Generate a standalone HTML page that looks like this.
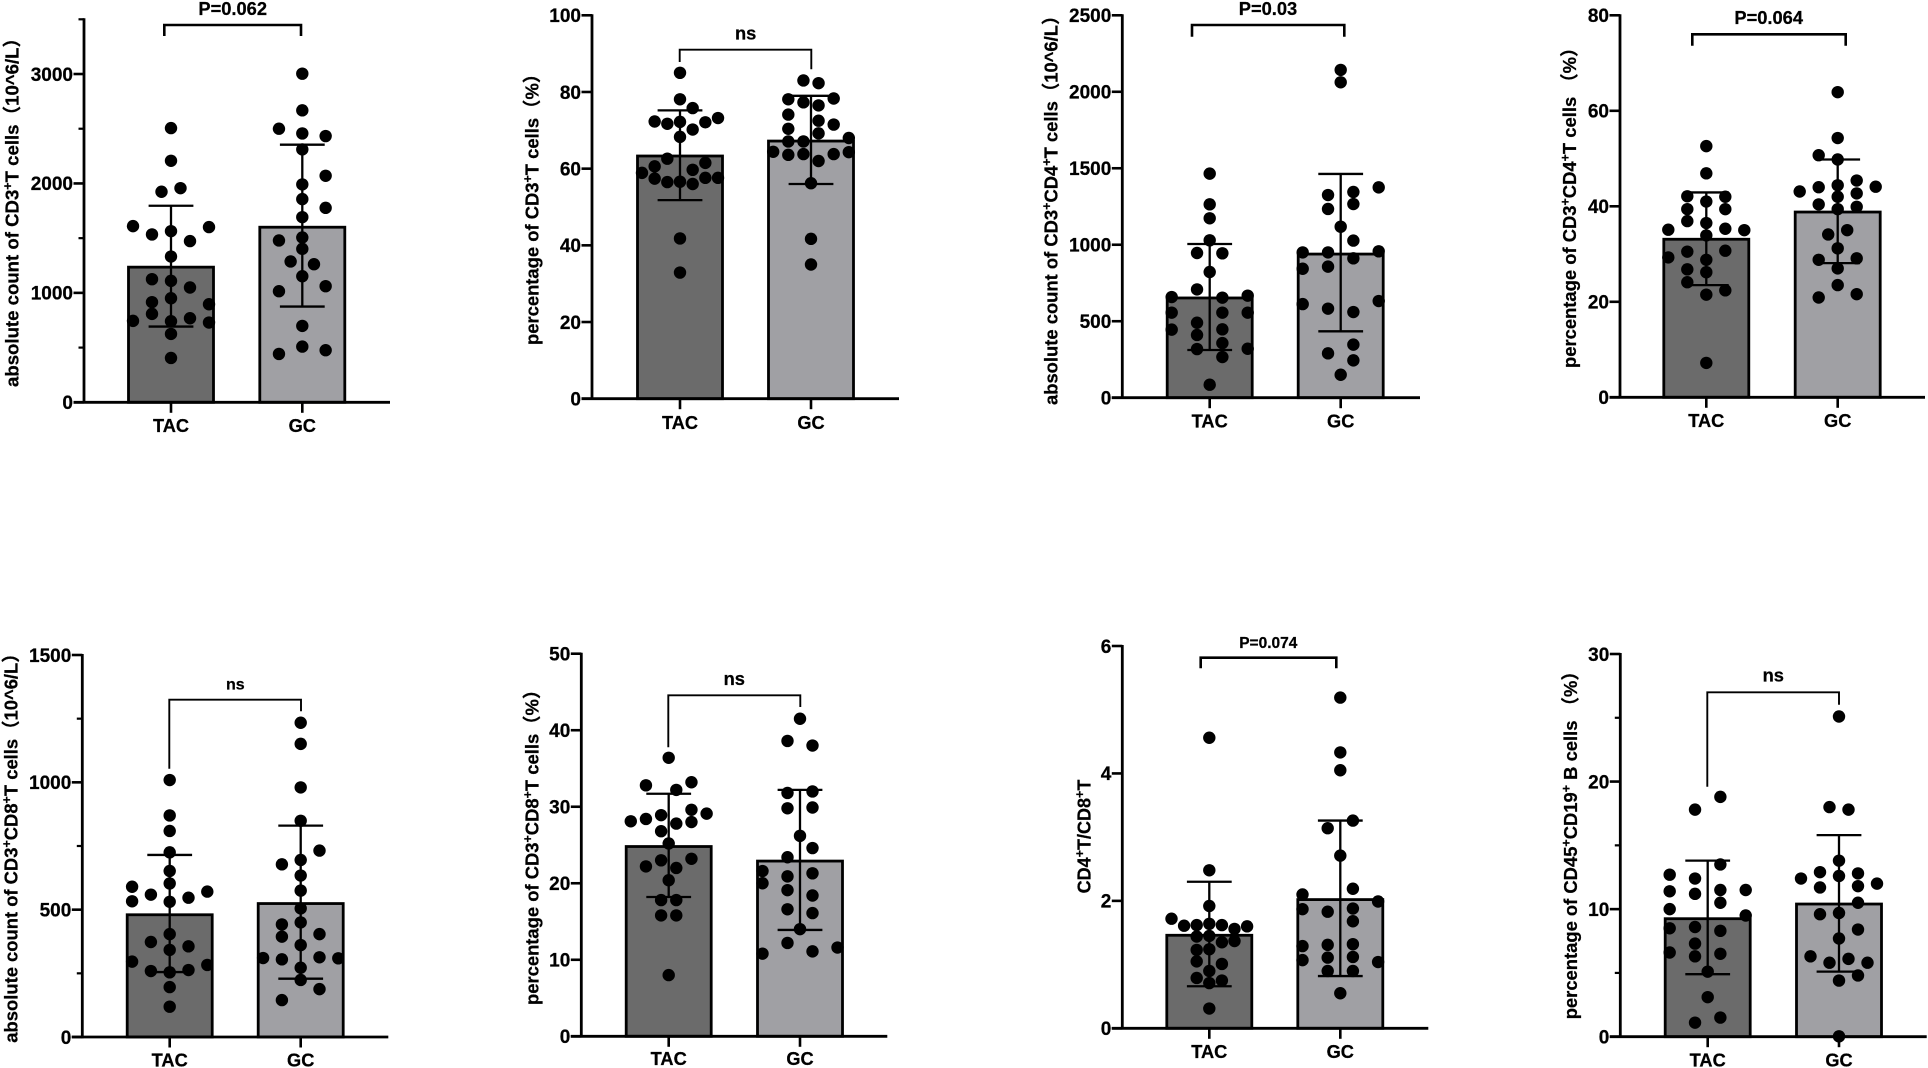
<!DOCTYPE html>
<html lang="en">
<head>
<meta charset="utf-8">
<title>Lymphocyte subsets TAC vs GC</title>
<style>
html,body{margin:0;padding:0;background:#fff;}
body{width:1928px;height:1068px;overflow:hidden;}
svg{display:block;}
text{font-family:"Liberation Sans","Noto Sans CJK SC",sans-serif;font-weight:bold;fill:#000;stroke:#000;stroke-width:.25;white-space:pre;}
</style>
</head>
<body>
<svg id="figure" width="1928" height="1068" viewBox="0 0 1928 1068" xmlns="http://www.w3.org/2000/svg"></svg>
<script>
const categories = ['TAC', 'GC'];

const p1Tac = [2506,2207,1924,1957,1610,1601,1534,1564,1473,1332,1125,1110,1049,915,951,896,808,768,744,741,729,625,405];
const p1Gc = [3003,2668,2500,2457,2433,2311,2070,1991,1857,1777,1692,1506,1479,1402,1287,1262,1152,1061,1015,698,509,476,442];
const p1TacSwarm = [0,0,-.5,.5,-2,2,-1,0,1,0,-1,0,1,-1,0,2,-1,1,-2,0,2,0,0];
const p1GcSwarm = [0,0,-2,0,2,0,2,0,0,2,0,0,-2,0,-1,1,0,2,-2,0,0,2,-2];
const p1Means = [1235,1600];
const p1Upper = [1796,2354];
const p1Lower = [692,875];
const p1Ticks = [0,1000,2000,3000];
const p1Minor = [500,1500,2500,3500];

const p2Tac = [85.0,78.1,75.8,73.2,72.3,71.7,72.2,72.1,70.2,68.3,62.6,61.5,60.6,59.7,58.9,57.4,57.6,57.6,56.5,56.6,56.0,41.8,32.9];
const p2Gc = [83.0,82.3,78.1,78.3,77.3,76.5,74.1,72.5,71.5,70.4,69.2,68.0,67.1,67.1,64.4,64.3,63.6,63.8,63.8,62.0,56.2,41.7,35.0];
const p2TacSwarm = [0,0,1,3,-2,-1,0,2,1,0,-1,2,-2,1,-3,-2,2,3,-1,0,1,0,0];
const p2GcSwarm = [-.5,.5,-1.5,1.5,-.5,.5,-1.5,.5,1.5,-1.5,.5,2.5,-1.5,-.5,-2.5,2.5,-1.5,-.5,1.5,.5,0,0,0];
const p2Means = [63.3,67.2];
const p2Upper = [75.2,79.0];
const p2Lower = [51.8,56.0];
const p2Ticks = [0,20,40,60,80,100];
const p2Minor = [];

const p3Tac = [1465,1264,1173,1029,946,944,822,708,658,654,667,556,556,556,490,447,445,410,357,318,320,266,85];
const p3Gc = [2143,2062,1375,1345,1325,1266,1234,1118,1027,950,950,957,911,857,843,612,632,582,560,347,290,244,150];
const p3TacSwarm = [0,0,0,0,-1,1,0,-1,-3,1,3,-3,1,3,-1,1,-3,-1,1,-1,3,1,0];
const p3GcSwarm = [0,0,3,1,-1,1,-1,0,1,-3,-1,3,1,-1,-3,-3,3,-1,1,1,-1,1,0];
const p3Means = [652,939];
const p3Upper = [1005,1463];
const p3Lower = [312,434];
const p3Ticks = [0,500,1000,1500,2000,2500];
const p3Minor = [];

const p4Tac = [52.6,46.9,42.1,42.0,41.0,39.4,39.4,36.9,36.5,35.1,35.3,35.0,33.9,30.5,30.7,29.3,28.8,26.8,26.2,24.1,22.4,21.5,7.2];
const p4Gc = [63.9,54.3,50.7,49.8,45.4,44.0,44.4,44.1,43.1,42.7,42.0,40.4,39.9,39.4,35.0,34.1,31.2,28.8,29.1,27.0,23.5,21.6,20.9];
const p4TacSwarm = [0,0,-1,1,0,-1,1,-1,0,-2,1,2,0,-1,1,-2,0,-1,0,-1,1,0,0];
const p4GcSwarm = [0,0,-1,0,1,-1,0,2,-2,1,0,-1,1,0,.5,-.5,0,-1,1,0,0,1,-1];
const p4Means = [33.1,38.8];
const p4Upper = [42.9,49.8];
const p4Lower = [23.5,28.1];
const p4Ticks = [0,20,40,60,80];
const p4Minor = [];

const p5Tac = [1009,870,809,725,652,603,590,571,559,547,533,531,404,373,356,342,296,283,259,254,263,196,119];
const p5Gc = [1234,1151,980,849,732,678,695,634,575,505,442,450,404,394,361,310,305,313,309,272,224,188,145];
const p5TacSwarm = [0,0,0,0,0,0,-2,2,-1,1,-2,0,0,-1,1,0,-2,2,-1,0,1,0,0];
const p5GcSwarm = [0,0,0,0,1,-1,0,0,0,0,-1,0,1,-1,0,-2,-1,1,2,0,0,1,-1];
const p5Means = [480,524];
const p5Upper = [715,830];
const p5Lower = [255,229];
const p5Ticks = [0,500,1000,1500];
const p5Minor = [250,750,1250];

const p6Tac = [36.4,33.2,32.8,32.2,29.6,29.1,28.9,28.4,28.1,28.0,27.8,26.8,25.2,23.2,23.0,22.2,22.0,20.4,17.8,17.8,15.8,15.8,8.0];
const p6Gc = [41.5,38.6,38.0,31.8,32.0,29.8,29.9,26.2,24.6,23.4,21.6,21.3,20.9,20.0,19.1,18.4,16.6,16.1,14.0,12.2,11.6,11.1,10.8];
const p6TacSwarm = [0,1.5,-1.5,.5,1.5,2.5,-.5,-1.5,-2.5,1.5,.5,-.5,0,1.5,-.5,-1.5,.5,0,-.5,.5,-.5,.5,0];
const p6GcSwarm = [0,-1,1,-1,1,-1,1,0,1,-1,-3,1,-1,-3,-1,1,-1,1,0,-1,3,1,-3];
const p6Means = [24.8,22.9];
const p6Upper = [31.7,32.2];
const p6Lower = [18.2,13.9];
const p6Ticks = [0,10,20,30,40,50];
const p6Minor = [];

const p7Tac = [4.56,2.48,1.92,1.72,1.62,1.64,1.62,1.61,1.60,1.56,1.44,1.45,1.37,1.35,1.23,1.24,1.05,1.01,0.90,0.79,0.75,0.71,0.31];
const p7Gc = [5.19,4.33,4.05,3.26,3.14,2.71,2.19,2.10,1.99,1.87,1.88,1.83,1.68,1.29,1.31,1.32,1.11,1.12,1.07,1.04,0.90,0.90,0.55];
const p7TacSwarm = [0,0,0,-3,-1,0,1,-2,3,2,-1,0,2,1,-1,0,-1,1,0,-1,1,0,0];
const p7GcSwarm = [0,0,0,1,-1,0,1,-3,3,-3,1,-1,1,-3,-1,1,-1,1,-3,3,-1,1,0];
const p7Means = [1.46,2.02];
const p7Upper = [2.30,3.26];
const p7Lower = [0.66,0.82];
const p7Ticks = [0,2,4,6];
const p7Minor = [];

const p8Tac = [18.8,17.8,13.5,12.7,12.4,11.4,11.5,11.5,11.2,10.5,10.0,9.5,8.5,8.6,8.3,7.3,6.6,6.5,6.3,5.1,3.1,1.5,1.1];
const p8Gc = [25.1,18.0,17.8,13.8,12.9,12.8,12.6,12.4,12.0,11.7,11.8,10.5,9.6,9.7,8.4,7.7,6.3,6.1,5.8,5.8,4.8,4.4,0.03];
const p8TacSwarm = [1,-1,1,-3,-1,-3,1,3,-1,1,-3,3,-3,-1,1,-1,-3,1,-1,0,0,1,-1];
const p8GcSwarm = [0,-.5,.5,0,-1,1,0,-2,2,-1,1,1,-1,0,1,0,-1.5,.5,-.5,1.5,1,0,0];
const p8Means = [9.25,10.4];
const p8Upper = [13.8,15.8];
const p8Lower = [4.9,5.1];
const p8Ticks = [0,10,20,30];
const p8Minor = [5,15,25];

const titles = [
  ['absolute count of CD3','+','T cells（10^6/L）'],
  ['percentage of CD3','+','T cells（%）'],
  ['absolute count of CD3','+','CD4','+','T cells（10^6/L）'],
  ['percentage of CD3','+','CD4','+','T cells （%）'],
  ['absolute count of CD3','+','CD8','+','T cells（10^6/L）'],
  ['percentage of CD3','+','CD8','+','T cells（%）'],
  ['CD4','+','T/CD8','+','T'],
  ['percentage of CD45','+','CD19','+',' B cells （%）']
];
const significance = ['P=0.062','ns','P=0.03','P=0.064','ns','ns','P=0.074','ns'];

/* layout of each panel, pure geometry */
const panels = [
 {tac:p1Tac,gc:p1Gc,ts:p1TacSwarm,gs:p1GcSwarm,m:p1Means,u:p1Upper,l:p1Lower,t:p1Ticks,n:p1Minor,max:3500,ax:84,y0:402.3,top:19.3,right:390,c:[171,302.3],su:[19,11.67],lab:432,
  br:[164.3,301,25,36,36],sx:232.7,sy:15,sf:18.3,tx:18.5,ty:387,tf:18.6},
 {tac:p2Tac,gc:p2Gc,ts:p2TacSwarm,gs:p2GcSwarm,m:p2Means,u:p2Upper,l:p2Lower,t:p2Ticks,n:p2Minor,max:100,ax:592,y0:398.7,top:15.3,right:899,c:[680,811],su:[12.67,15.13],lab:429,
  br:[679.7,811.3,49.7,62,69.3],sx:745.7,sy:39.3,sf:18.3,tx:538.3,ty:345,tf:18.4},
 {tac:p3Tac,gc:p3Gc,ts:p3TacSwarm,gs:p3GcSwarm,m:p3Means,u:p3Upper,l:p3Lower,t:p3Ticks,n:p3Minor,max:2500,ax:1122.3,y0:397.7,top:15.3,right:1420,c:[1209.7,1340.7],su:[12.67,12.67],lab:427.7,
  br:[1192,1344.3,25,36.7,36.7],sx:1268,sy:15,sf:18.3,tx:1057.3,ty:405,tf:18.4},
 {tac:p4Tac,gc:p4Gc,ts:p4TacSwarm,gs:p4GcSwarm,m:p4Means,u:p4Upper,l:p4Lower,t:p4Ticks,n:p4Minor,max:80,ax:1620,y0:397.3,top:15.3,right:1925,c:[1706.3,1837.7],su:[19,19],lab:427,
  br:[1692.3,1845.7,34.3,45.7,45.7],sx:1768.7,sy:24,sf:18.3,tx:1576,ty:368,tf:18.4},
 {tac:p5Tac,gc:p5Gc,ts:p5TacSwarm,gs:p5GcSwarm,m:p5Means,u:p5Upper,l:p5Lower,t:p5Ticks,n:p5Minor,max:1500,ax:82.3,y0:1037,top:655,right:388.3,c:[169.7,300.7],su:[18.8,18.8],lab:1066.7,
  br:[169.3,301,699.7,768.7,711.3],sx:235.3,sy:689.3,sf:16,tx:17.3,ty:1042.7,tf:18.4},
 {tac:p6Tac,gc:p6Gc,ts:p6TacSwarm,gs:p6GcSwarm,m:p6Means,u:p6Upper,l:p6Lower,t:p6Ticks,n:p6Minor,max:50,ax:581.3,y0:1036.3,top:653.7,right:887.3,c:[668.7,800],su:[15.17,12.5],lab:1065,
  br:[668.3,800.3,695.3,747.3,707],sx:734.3,sy:685,sf:18.3,tx:538.5,ty:1005,tf:18.4},
 {tac:p7Tac,gc:p7Gc,ts:p7TacSwarm,gs:p7GcSwarm,m:p7Means,u:p7Upper,l:p7Lower,t:p7Ticks,n:p7Minor,max:6,ax:1122.3,y0:1028.3,top:646,right:1428.3,c:[1209.3,1340.3],su:[12.6,12.6],lab:1058,
  br:[1200.7,1336.3,657.7,668.3,668.3],sx:1268.3,sy:648,sf:15.5,tx:1090.7,ty:893.3,tf:18},
 {tac:p8Tac,gc:p8Gc,ts:p8TacSwarm,gs:p8GcSwarm,m:p8Means,u:p8Upper,l:p8Lower,t:p8Ticks,n:p8Minor,max:30,ax:1620.3,y0:1036.7,top:654,right:1926.7,c:[1707.7,1839],su:[12.67,19],lab:1066.7,
  br:[1707.3,1839,692.3,786.7,704.7],sx:1773.3,sy:681.7,sf:18.3,tx:1577,ty:1019.3,tf:18.4}
];

const NS = 'http://www.w3.org/2000/svg';
const figure = document.getElementById('figure');
const barFill = ['#6b6b6b', '#a0a0a4'];

function make(parent, tag, attrs, content) {
  const node = document.createElementNS(NS, tag);
  for (const k in attrs) node.setAttribute(k, attrs[k]);
  if (content !== undefined) node.textContent = content;
  parent.appendChild(node);
  return node;
}
function segment(parent, x1, y1, x2, y2, w) {
  return make(parent, 'line', {x1: x1, y1: y1, x2: x2, y2: y2, stroke: '#000', 'stroke-width': w});
}

panels.forEach(function (p, i) {
  const yScale = function (v) { return p.y0 - (v / p.max) * (p.y0 - p.top); };
  const g = make(figure, 'g', {});
  
  

  const groups = [[p.tac, p.ts], [p.gc, p.gs]];
  groups.forEach(function (pair, c) {
    const cx = p.c[c];
    const bar = make(g, 'rect', {x: cx - 42.5, y: yScale(p.m[c]), width: 85, height: p.y0 - yScale(p.m[c]), fill: barFill[c], stroke: '#000', 'stroke-width': 2.8});
    
    
  });

  const yAxis = segment(g, p.ax, p.top - 1, p.ax, p.y0 + 1.2, 2.8);
  
  
  const xAxis = segment(g, p.ax - 10.5, p.y0, p.right, p.y0, 2.8);
  
  

  p.t.forEach(function (v) {
    const tick = segment(g, p.ax - 10.5, yScale(v), p.ax, yScale(v), 2.6);
    
    
    const label = make(g, 'text', {x: p.ax - 11, y: yScale(v) + 6.8, 'text-anchor': 'end', 'font-size': 19}, String(v));
    
    
  });
  p.n.forEach(function (v) {
    const minor = segment(g, p.ax - 5.5, yScale(v), p.ax, yScale(v), 2.2);
    
    
  });

  groups.forEach(function (pair, c) {
    const cx = p.c[c];
    const tick = segment(g, cx, p.y0, cx, p.y0 + 10.5, 2.6);
    
    
    const label = make(g, 'text', {x: cx, y: p.lab, 'text-anchor': 'middle', 'font-size': 18.2}, categories[c]);
    
    

    const stem = segment(g, cx, yScale(p.u[c]), cx, yScale(p.l[c]), 2.3);
    
    
    const capHigh = segment(g, cx - 22.4, yScale(p.u[c]), cx + 22.4, yScale(p.u[c]), 2.3);
    
    
    const capLow = segment(g, cx - 22.4, yScale(p.l[c]), cx + 22.4, yScale(p.l[c]), 2.3);
    
    

    pair[0].forEach(function (v, k) {
      const dot = make(g, 'circle', {cx: cx + pair[1][k] * p.su[c], cy: yScale(v), r: 6.2, fill: '#000'});
      
      
    });
  });

  const b = p.br;
  const bracket = make(g, 'polyline', {points: b[0] + ',' + b[3] + ' ' + b[0] + ',' + b[2] + ' ' + b[1] + ',' + b[2] + ' ' + b[1] + ',' + b[4], fill: 'none', stroke: '#000', 'stroke-width': (b[3] === b[4] ? 2.6 : 1.9)});
  
  
  const sig = make(g, 'text', {x: p.sx, y: p.sy, 'text-anchor': 'middle', 'font-size': p.sf}, significance[i]);
  
  

  const title = make(g, 'text', {x: p.tx, y: p.ty, 'font-size': p.tf, transform: 'rotate(-90 ' + p.tx + ' ' + p.ty + ')'});
  
  
  titles[i].forEach(function (part, k) {
    const isSup = k % 2 === 1;
    make(title, 'tspan', isSup ? {dy: -6.5, 'font-size': 12.5} : {dy: k === 0 ? 0 : 6.5}, part);
  });
});
</script>
</body>
</html>
